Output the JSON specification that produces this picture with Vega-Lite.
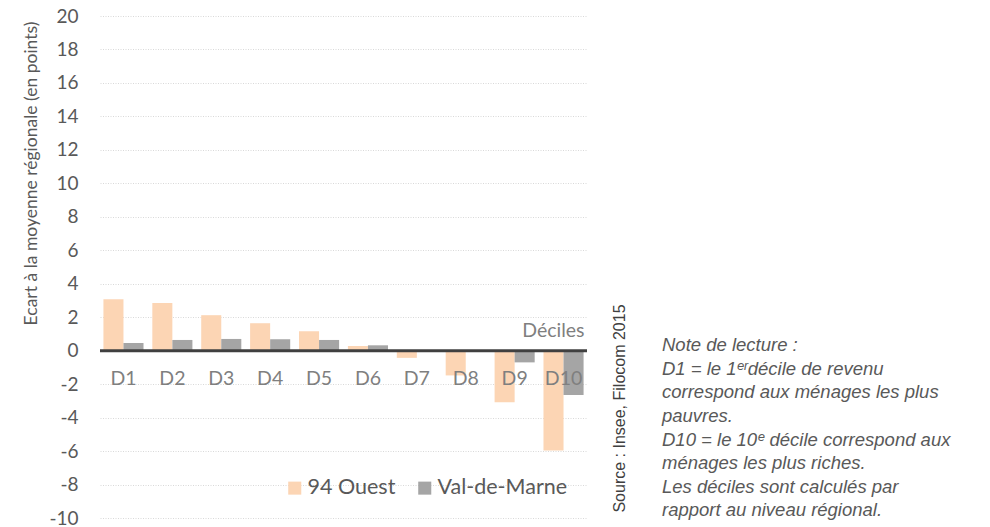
{
  "$schema": "https://vega.github.io/schema/vega-lite/v6.json",
  "width": 487,
  "height": 502,
  "autosize": {"type": "none"},
  "padding": {"left": 100, "top": 16, "right": 403, "bottom": 9},
  "background": "white",
  "config": {"view": {"stroke": null}, "font": "Lato"},
  "title": {
    "text": ["Note de lecture :", "D1 = le 1ᵉʳdécile de revenu", "correspond aux ménages les plus", "pauvres.", "D10 = le 10ᵉ décile correspond aux", "ménages les plus riches.", "Les déciles sont calculés par", "rapport au niveau régional."],
    "orient": "top",
    "anchor": "start",
    "frame": "group",
    "offset": 0,
    "dx": 562,
    "dy": 528,
    "baseline": "alphabetic",
    "font": "Liberation Sans",
    "fontStyle": "italic",
    "fontWeight": "normal",
    "fontSize": 18.5,
    "lineHeight": 23.6,
    "color": "#595959"
  },
  "data": {
    "values": [
      {"decile": "D1", "serie": "94 Ouest", "valeur": 3.07},
      {"decile": "D1", "serie": "Val-de-Marne", "valeur": 0.46},
      {"decile": "D2", "serie": "94 Ouest", "valeur": 2.85},
      {"decile": "D2", "serie": "Val-de-Marne", "valeur": 0.64},
      {"decile": "D3", "serie": "94 Ouest", "valeur": 2.12},
      {"decile": "D3", "serie": "Val-de-Marne", "valeur": 0.7},
      {"decile": "D4", "serie": "94 Ouest", "valeur": 1.64},
      {"decile": "D4", "serie": "Val-de-Marne", "valeur": 0.68},
      {"decile": "D5", "serie": "94 Ouest", "valeur": 1.16},
      {"decile": "D5", "serie": "Val-de-Marne", "valeur": 0.64},
      {"decile": "D6", "serie": "94 Ouest", "valeur": 0.28},
      {"decile": "D6", "serie": "Val-de-Marne", "valeur": 0.32},
      {"decile": "D7", "serie": "94 Ouest", "valeur": -0.43},
      {"decile": "D7", "serie": "Val-de-Marne", "valeur": 0.04},
      {"decile": "D8", "serie": "94 Ouest", "valeur": -1.48},
      {"decile": "D8", "serie": "Val-de-Marne", "valeur": -0.04},
      {"decile": "D9", "serie": "94 Ouest", "valeur": -3.09},
      {"decile": "D9", "serie": "Val-de-Marne", "valeur": -0.7},
      {"decile": "D10", "serie": "94 Ouest", "valeur": -5.96},
      {"decile": "D10", "serie": "Val-de-Marne", "valeur": -2.65}
    ]
  },
  "layer": [
    {
      "mark": {"type": "bar"},
      "encoding": {
        "x": {
          "field": "decile",
          "type": "nominal",
          "sort": ["D1", "D2", "D3", "D4", "D5", "D6", "D7", "D8", "D9", "D10"],
          "scale": {"paddingInner": 0.18, "paddingOuter": 0.07},
          "axis": null
        },
        "xOffset": {"field": "serie", "type": "nominal", "sort": ["94 Ouest", "Val-de-Marne"], "scale": {"paddingInner": 0, "paddingOuter": 0}},
        "y": {
          "field": "valeur",
          "type": "quantitative",
          "scale": {"domain": [-10, 20], "nice": false, "zero": false},
          "axis": {
            "values": [-10, -8, -6, -4, -2, 0, 2, 4, 6, 8, 10, 12, 14, 16, 18, 20],
            "labelExpr": "'' + datum.value",
            "domain": false,
            "ticks": false,
            "labelPadding": 22,
            "labelFont": "Lato",
            "labelFontSize": 19,
            "labelColor": "#595959",
            "grid": true,
            "gridColor": "#d9d9d9",
            "gridDash": [1, 1.5],
            "gridWidth": 1,
            "title": "Ecart à la moyenne régionale (en points)",
            "titleFont": "Lato",
            "titleFontSize": 17.5,
            "titleFontWeight": "normal",
            "titleColor": "#595959",
            "titleAngle": 270,
            "titleAlign": "center",
            "titleBaseline": "alphabetic",
            "titleX": -64,
            "titleY": 157
          }
        },
        "color": {
          "field": "serie",
          "type": "nominal",
          "sort": ["94 Ouest", "Val-de-Marne"],
          "scale": {"domain": ["94 Ouest", "Val-de-Marne"], "range": ["#fcd5b4", "#a5a5a5"]},
          "legend": {
            "title": null,
            "orient": "none",
            "direction": "horizontal",
            "legendX": 184,
            "legendY": 461,
            "padding": 0,
            "symbolType": "square",
            "symbolSize": 170,
            "symbolStrokeWidth": 0,
            "labelFont": "Lato",
            "labelFontSize": 21.5,
            "labelColor": "#595959",
            "labelOffset": 2,
            "columnPadding": 18
          }
        }
      }
    },
    {
      "data": {"values": [{"zero": 0}]},
      "mark": {"type": "rule", "color": "#404040", "strokeWidth": 3},
      "encoding": {"y": {"field": "zero", "type": "quantitative", "axis": null}}
    },
    {
      "data": {
        "values": [
          {"decile": "D1"}, {"decile": "D2"}, {"decile": "D3"}, {"decile": "D4"}, {"decile": "D5"},
          {"decile": "D6"}, {"decile": "D7"}, {"decile": "D8"}, {"decile": "D9"}, {"decile": "D10"}
        ]
      },
      "mark": {"type": "text", "font": "Lato", "fontSize": 19.5, "color": "#7f7f7f", "baseline": "alphabetic", "align": "center", "dy": 34},
      "encoding": {
        "x": {"field": "decile", "type": "nominal", "sort": ["D1", "D2", "D3", "D4", "D5", "D6", "D7", "D8", "D9", "D10"]},
        "y": {
          "datum": 0,
          "type": "quantitative",
          "axis": {
            "orient": "right",
            "labels": false,
            "ticks": false,
            "domain": false,
            "grid": false,
            "title": "Source : Insee, Filocom 2015",
            "titleFont": "Liberation Sans",
            "titleFontSize": 16,
            "titleFontWeight": "normal",
            "titleColor": "#404040",
            "titleAngle": 270,
            "titleAlign": "center",
            "titleBaseline": "alphabetic",
            "titleX": 37,
            "titleY": 392
          }
        },
        "text": {"field": "decile"}
      }
    },
    {
      "data": {"values": [{"decile": "D10", "label": "Déciles"}]},
      "mark": {"type": "text", "font": "Lato", "fontSize": 19.5, "color": "#7f7f7f", "baseline": "alphabetic", "align": "right", "dx": 21, "dy": -14},
      "encoding": {
        "x": {"field": "decile", "type": "nominal", "sort": ["D1", "D2", "D3", "D4", "D5", "D6", "D7", "D8", "D9", "D10"]},
        "y": {"datum": 0, "type": "quantitative", "axis": null},
        "text": {"field": "label"}
      }
    }
  ],
  "resolve": {"axis": {"y": "independent"}}
}
